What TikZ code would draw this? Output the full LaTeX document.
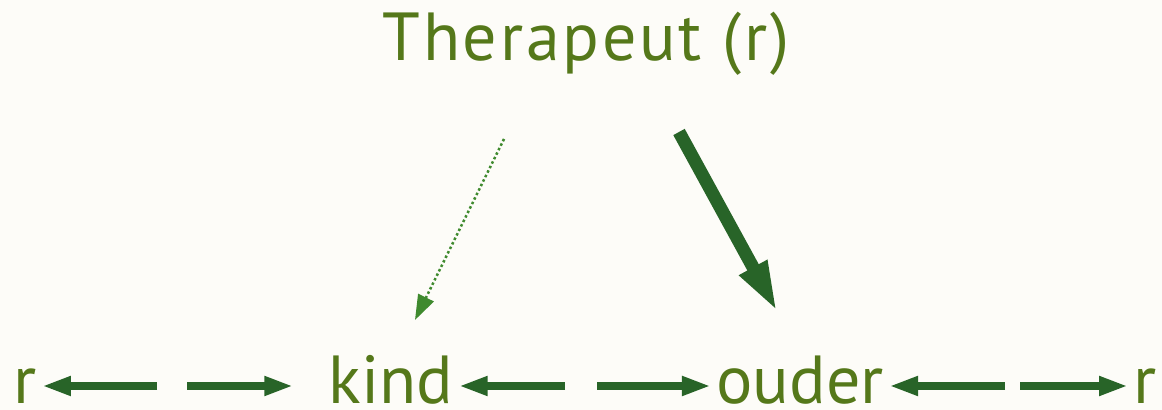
\documentclass[tikz,border=0pt]{standalone}
\usepackage{fontspec}
\setmainfont{PT Sans}
\usetikzlibrary{arrows.meta,calc}
\definecolor{bgcream}{HTML}{FDFCF8}
\definecolor{txtgreen}{HTML}{55781A}
\definecolor{arrgreen}{HTML}{286428}
\definecolor{dotgreen}{HTML}{3F8A2E}
\begin{document}
\begin{tikzpicture}[
      x=0.5pt, y=-0.5pt,
      lbl/.style={text=txtgreen, font=\fontsize{34}{40}\selectfont,
                  inner sep=0pt, inner xsep=2.5pt, anchor=base},
      relarrow/.style={arrgreen, line width=4pt,
                  -{Triangle[length=14.5pt, width=9pt]}},
      strong/.style={arrgreen, line width=6.5pt,
                  -{Triangle[length=26pt, width=14pt]}},
      weak/.style={dotgreen, line width=1.25pt, dash pattern=on 1.25pt off 1.25pt,
                  -{Triangle[length=12.5pt, width=8.5pt]}}
  ]
      \fill[bgcream] (0,0) rectangle (1162,410);
      \useasboundingbox (0,0) rectangle (1162,410);

      % Knopen
      \node[lbl] (therapeut) at (586,61) {\addfontfeature{LetterSpace=4}Therapeut (r)};
      \node[lbl] (rlinks) at (25,404) {r};
      \node[lbl] (kind) at (391,404) {kind};
      \node[lbl] (ouder) at (800,404) {ouder};
      \node[lbl] (rrechts) at (1145,404) {r};

      % Relaties onderaan
      \coordinate (g1) at (157,386);
      \coordinate (g2) at (187,386);
      \coordinate (g3) at (565,386);
      \coordinate (g4) at (597,386);
      \coordinate (g5) at (1005,386);
      \coordinate (g6) at (1020,386);
      \draw[relarrow] (g1) -- (g1 -| rlinks.east);
      \draw[relarrow, shorten >=15pt] (g2) -- (g2 -| kind.west);
      \draw[relarrow] (g3) -- (g3 -| kind.east);
      \draw[relarrow] (g4) -- (g4 -| ouder.west);
      \draw[relarrow] (g5) -- (g5 -| ouder.east);
      \draw[relarrow] (g6) -- (g6 -| rrechts.west);

      % Invloed therapeut
      \coordinate (w1) at (504,139);
      \coordinate (w2) at (415,320);
      \coordinate (s1) at (679,132);
      \coordinate (s2) at (778,313);
      \draw[weak] (w1) -- (w2);
      \draw[strong] (s1) -- (s2);
  \end{tikzpicture}
\end{document}
